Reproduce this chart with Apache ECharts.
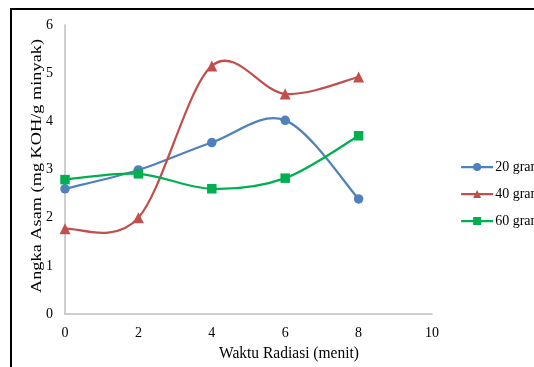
<!DOCTYPE html>
<html><head><meta charset="utf-8">
<script src="https://cdn.jsdelivr.net/npm/echarts@6/dist/echarts.min.js"></script>
<style>html,body{margin:0;padding:0;background:#fff}#c{width:534px;height:367px}</style>
</head><body><div id="c"></div>
<script>
const xValues = [0, 2, 4, 6, 8];
const seriesNames = ['20 gram', '40 gram', '60 gram'];
const s20 = [2.6, 2.99, 3.56, 4.02, 2.39];
const s40 = [1.77, 2.0, 5.15, 4.57, 4.92];
const s60 = [2.79, 2.91, 2.6, 2.82, 3.7];
const xTitle = 'Waktu Radiasi (menit)';
const yTitle = 'Angka Asam (mg KOH/g minyak)';
const colors = ['#4F81BD', '#C0504D', '#00B050'];
const symbols = ['circle', 'triangle', 'rect'];
const allValues = [s20, s40, s60];

const font = 'Liberation Serif, Times New Roman, serif';
const chart = echarts.init(document.getElementById('c'));

// Smooth curve (Excel-like cardinal spline) drawn segment by segment
// through the chart's own coordinate system.
function curveSeries(vals, color) {
  return {
    type: 'custom', z: 1, silent: true,
    data: xValues.map((x, j) => [x, vals[j]]),
    encode: { x: 0, y: 1 },
    renderItem: function (params, api) {
      const i = params.dataIndex;
      const n = xValues.length;
      if (i >= n - 1) return null;
      const P = xValues.map((x, j) => api.coord([x, vals[j]]));
      const p0 = P[Math.max(i - 1, 0)], p1 = P[i], p2 = P[i + 1], p3 = P[Math.min(i + 2, n - 1)];
      const t = 1 / 6;
      return {
        type: 'bezierCurve',
        shape: {
          x1: p1[0], y1: p1[1], x2: p2[0], y2: p2[1],
          cpx1: p1[0] + (p2[0] - p0[0]) * t, cpy1: p1[1] + (p2[1] - p0[1]) * t,
          cpx2: p2[0] - (p3[0] - p1[0]) * t, cpy2: p2[1] - (p3[1] - p1[1]) * t
        },
        style: { stroke: color, lineWidth: 2.25, fill: 'none' }
      };
    }
  };
}

chart.setOption({
  animation: false,
  backgroundColor: '#fff',
  grid: { left: 65, top: 25, right: 102, bottom: 53 },
  xAxis: {
    type: 'value', min: 0, max: 10, interval: 2,
    axisLine: { show: true, lineStyle: { color: '#BFBFBF', width: 1.5 } },
    axisTick: { show: false },
    splitLine: { show: false },
    axisLabel: { color: '#000', fontFamily: font, fontSize: 14, margin: 12 }
  },
  yAxis: {
    type: 'value', min: 0, max: 6, interval: 1,
    axisLine: { show: true, lineStyle: { color: '#BFBFBF', width: 1.5 } },
    axisTick: { show: false },
    splitLine: { show: false },
    axisLabel: { color: '#000', fontFamily: font, fontSize: 14, margin: 12 }
  },
  legend: {
    orient: 'vertical', left: 455, top: 155, itemGap: 13,
    itemWidth: 32, itemHeight: 10,
    lineStyle: { width: 2.25, opacity: 1 },
    textStyle: { color: '#000', fontFamily: font, fontSize: 14, padding: [0, 0, 0, -3] },
    data: seriesNames
  },
  graphic: [
    { type: 'rect', shape: { x: 11, y: 9, width: 700, height: 500 }, style: { fill: 'none', stroke: '#000', lineWidth: 2 }, silent: true },
    { type: 'text', x: 289, y: 353, scaleY: 1.12, style: { text: xTitle, font: '15.5px ' + font, fill: '#000', textAlign: 'center', textVerticalAlign: 'middle' } },
    { type: 'text', x: 37, y: 166, rotation: Math.PI / 2, scaleX: 1.18, style: { text: yTitle, font: '15.5px ' + font, fill: '#000', textAlign: 'center', textVerticalAlign: 'middle' } }
  ],
  series: allValues.map((vals, i) => ({
    name: seriesNames[i], type: 'line', z: 3,
    data: xValues.map((x, j) => [x, vals[j]]),
    symbol: symbols[i], symbolSize: i === 1 ? 11 : 9.5,
    lineStyle: { color: colors[i], width: 2.25, opacity: 0 },
    itemStyle: { color: colors[i] }
  })).concat(allValues.map((vals, i) => curveSeries(vals, colors[i])))
});
</script></body></html>
